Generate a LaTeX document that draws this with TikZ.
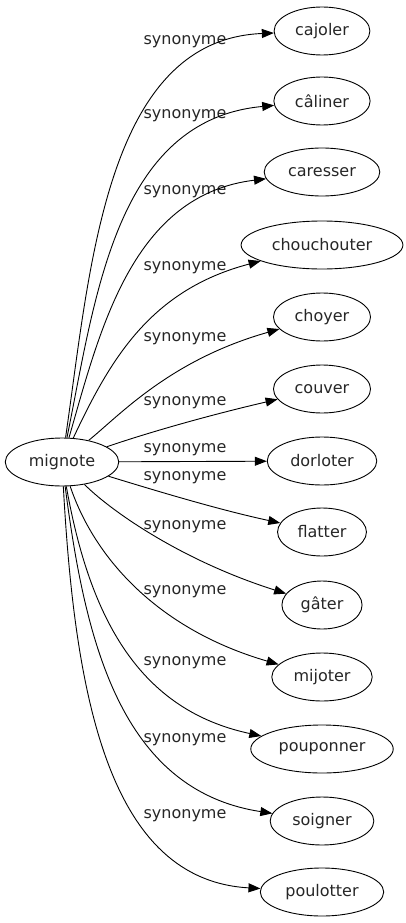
\documentclass[tikz,border=0pt]{standalone}
\usepackage{fontspec}
\setmainfont{DejaVu Sans}
\usetikzlibrary{shapes.geometric,arrows.meta}

\begin{document}
\begin{tikzpicture}[x=1pt, y=-1pt,
  every node/.style={font=\fontsize{16}{19}\selectfont, text=black!85},
  word/.style={draw, ellipse, line width=0.9pt, inner xsep=7pt, minimum height=48pt},
  syn/.style={inner sep=0pt},
  rel/.style={line width=0.9pt, -{Triangle[length=12pt, width=9pt]}}]
\useasboundingbox (0,0) rectangle (406,923);

\node[word] (mignote) at (62,462) {mignote};

\node[word] (cajoler) at (322,31) {cajoler};
\node[word] (caliner) at (322,101) {câliner};
\node[word] (caresser) at (322,172) {caresser};
\node[word] (chouchouter) at (322,245) {chouchouter};
\node[word] (choyer) at (322,317) {choyer};
\node[word] (couver) at (322,389) {couver};
\node[word] (dorloter) at (322,461) {dorloter};
\node[word] (flatter) at (322,532) {flatter};
\node[word] (gater) at (322,605) {gâter};
\node[word] (mijoter) at (322,677) {mijoter};
\node[word] (pouponner) at (322,749) {pouponner};
\node[word] (soigner) at (322,821) {soigner};
\node[word] (poulotter) at (322,892) {poulotter};

\node[syn] (s1) at (185,42) {synonyme};
\node[syn] (s2) at (185,116) {synonyme};
\node[syn] (s3) at (185,192) {synonyme};
\node[syn] (s4) at (185,268) {synonyme};
\node[syn] (s5) at (185,339) {synonyme};
\node[syn] (s6) at (185,403) {synonyme};
\node[syn] (s7) at (185,450) {synonyme};
\node[syn] (s8) at (185,478) {synonyme};
\node[syn] (s9) at (185,527) {synonyme};
\node[syn] (s10) at (185,592) {synonyme};
\node[syn] (s11) at (185,663) {synonyme};
\node[syn] (s12) at (185,740) {synonyme};
\node[syn] (s13) at (185,816) {synonyme};

\draw[rel] (mignote) .. controls (90,270) and (105,40) .. (cajoler);
\draw[rel] (mignote) .. controls (95,300) and (115,120) .. (caliner);
\draw[rel] (mignote) .. controls (100,330) and (132,195) .. (caresser);
\draw[rel] (mignote) .. controls (110,360) and (150,290) .. (chouchouter);
\draw[rel] (mignote) .. controls (120,415) and (170,360) .. (choyer);
\draw[rel] (mignote) .. controls (150,432) and (210,415) .. (couver);
\draw[rel] (mignote) -- (dorloter);
\draw[rel] (mignote) .. controls (160,492) and (220,510) .. (flatter);
\draw[rel] (mignote) .. controls (110,510) and (180,560) .. (gater);
\draw[rel] (mignote) .. controls (95,560) and (160,630) .. (mijoter);
\draw[rel] (mignote) .. controls (90,620) and (140,710) .. (pouponner);
\draw[rel] (mignote) .. controls (85,640) and (120,790) .. (soigner);
\draw[rel] (mignote) .. controls (75,700) and (110,880) .. (poulotter);
\end{tikzpicture}
\end{document}
